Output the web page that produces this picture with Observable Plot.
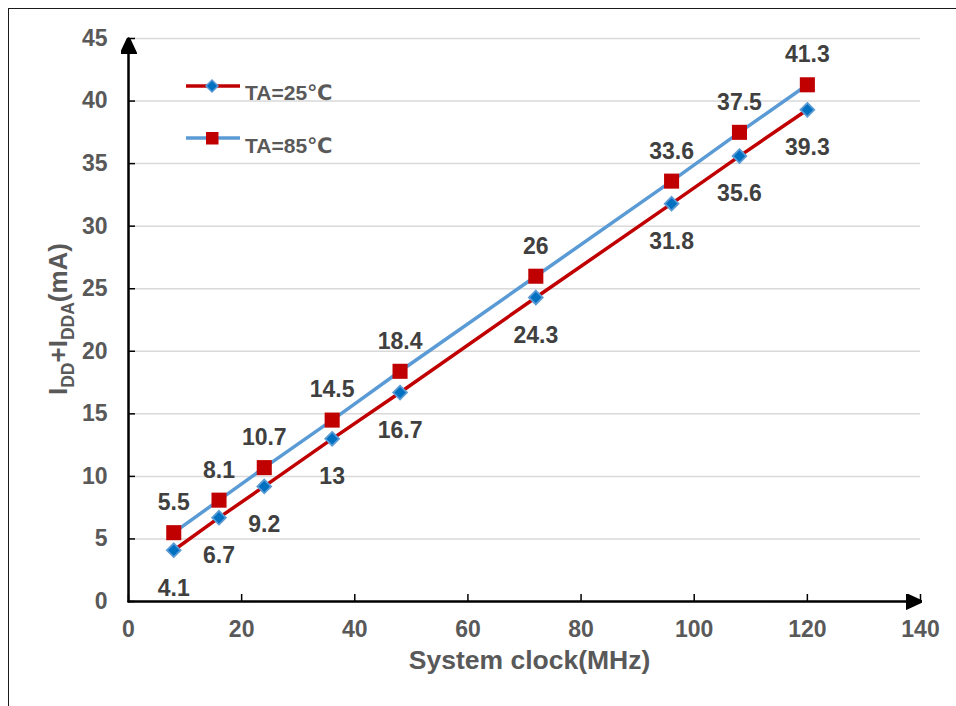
<!DOCTYPE html>
<html><head><meta charset="utf-8">
<script src="https://cdn.jsdelivr.net/npm/d3@7"></script>
<script src="https://cdn.jsdelivr.net/npm/@observablehq/plot@0.6"></script>
<style>
html,body{margin:0;padding:0;background:#fff;overflow:hidden;}
#chart{position:relative;width:956px;height:706px;}
#frame{position:absolute;left:8px;top:8px;width:980px;height:740px;border-top:1.5px solid #1a1a1a;border-left:1.5px solid #1a1a1a;pointer-events:none;}
</style></head><body>
<div id="chart"><div id="frame"></div></div>
<script>
// ---- data ----
const clockMHz = [8, 16, 24, 36, 48, 72, 96, 108, 120];
const idd25 = [4.1, 6.7, 9.2, 13, 16.7, 24.3, 31.8, 35.6, 39.3];
const idd85 = [5.5, 8.1, 10.7, 14.5, 18.4, 26, 33.6, 37.5, 41.3];
const seriesNames = ["TA=25℃", "TA=85℃"];
const xTicks = [0, 20, 40, 60, 80, 100, 120, 140];
const yTicks = [0, 5, 10, 15, 20, 25, 30, 35, 40, 45];
const xDomain = [0, 140];
const yDomain = [0, 45];
const xTitle = "System clock(MHz)";

const rows = clockMHz.map((x, i) => ({x, y25: idd25[i], y85: idd85[i]}));

const RED = "#C00000", BLUE = "#5B9BD5", DBLUE = "#0070C0";
const FONT = "Liberation Sans, Arial, DejaVu Sans, sans-serif";

function triangleMarker() {
  const m = d3.create("svg:marker")
    .attr("viewBox", "0 -8 16 16")
    .attr("markerUnits", "userSpaceOnUse")
    .attr("markerWidth", 16).attr("markerHeight", 16)
    .attr("refX", 15).attr("refY", 0)
    .attr("orient", "auto");
  m.append("path").attr("d", "M0,-7.5L16,0L0,7.5Z").attr("fill", "#000");
  return m.node();
}

const W = 956, H = 706, ML = 128, MR = 36, MT = 38, MB = 105;
const FW = W - ML - MR, FH = H - MT - MB;

const plot = Plot.plot({
  width: W, height: H,
  marginLeft: ML, marginRight: MR, marginTop: MT, marginBottom: MB,
  style: {fontFamily: FONT, background: "transparent", overflow: "visible"},
  x: {domain: xDomain},
  y: {domain: yDomain},
  marks: [
    Plot.gridY(yTicks.filter(d => d > 0), {stroke: "#D9D9D9", strokeOpacity: 1, strokeWidth: 1.5}),
    Plot.axisY(yTicks, {tickSize: 0, tickPadding: 21, fontSize: 23, fontWeight: "bold", color: "#595959", label: null}),
    Plot.axisX(xTicks, {tickSize: 0, tickPadding: 19, fontSize: 23, fontWeight: "bold", color: "#595959", label: null}),
    Plot.tickY(yTicks, {y: d => d, insetRight: FW - 7, stroke: "#000", strokeWidth: 1.5}),
    Plot.tickX(xTicks, {x: d => d, insetTop: FH - 7, stroke: "#000", strokeWidth: 1.5}),
    Plot.line([[xDomain[0], yDomain[0]], [xDomain[0], yDomain[1]]], {x: d => d[0], y: d => d[1], stroke: "#000", strokeWidth: 2.5, markerEnd: triangleMarker}),
    Plot.line([[xDomain[0], yDomain[0]], [xDomain[1], yDomain[0]]], {x: d => d[0], y: d => d[1], stroke: "#000", strokeWidth: 2.5, markerEnd: triangleMarker}),
    Plot.line(rows, {x: "x", y: "y25", stroke: RED, strokeWidth: 3.5}),
    Plot.line(rows, {x: "x", y: "y85", stroke: BLUE, strokeWidth: 3.5}),
    Plot.dot(rows, {x: "x", y: "y25", symbol: "diamond2", r: 6.2, fill: DBLUE, stroke: BLUE, strokeWidth: 1.8}),
    Plot.dot(rows, {x: "x", y: "y85", symbol: "square", r: 8.5, fill: RED, stroke: null}),
    Plot.text(rows, {x: "x", y: "y85", text: d => String(d.y85), dy: -30, fontSize: 23, fontWeight: "bold", fill: "#404040"}),
    Plot.text(rows, {x: "x", y: "y25", text: d => String(d.y25), dy: 38, fontSize: 23, fontWeight: "bold", fill: "#404040"}),
    Plot.text([xTitle], {frameAnchor: "bottom", text: d => d, dy: 67, dx: 5, fontSize: 26.5, fontWeight: "bold", fill: "#595959"})
  ]
});

const svg = d3.select(plot);
// y-axis title with subscripts
const yt = svg.append("text")
  .attr("transform", "translate(67,319) rotate(-90)")
  .attr("text-anchor", "middle")
  .attr("font-family", FONT).attr("font-weight", "bold").attr("font-size", 26)
  .attr("fill", "#595959");
yt.append("tspan").text("I");
yt.append("tspan").attr("font-size", 17.5).attr("dy", 7).text("DD");
yt.append("tspan").attr("dy", -7).text("+I");
yt.append("tspan").attr("font-size", 17.5).attr("dy", 7).text("DDA");
yt.append("tspan").attr("dy", -7).text("(mA)");

// legend
const lg = svg.append("g").attr("font-family", FONT).attr("font-weight", "bold").attr("font-size", 21)
  .attr("fill", "#595959").attr("text-anchor", "start");
lg.append("line").attr("x1", 186).attr("x2", 240).attr("y1", 86).attr("y2", 86).attr("stroke", RED).attr("stroke-width", 3.5);
lg.append("path").attr("d", "M212,80L218,86L212,92L206,86Z").attr("fill", DBLUE).attr("stroke", BLUE).attr("stroke-width", 1.5);
lg.append("text").attr("x", 245).attr("y", 100).text(seriesNames[0]);
lg.append("line").attr("x1", 186).attr("x2", 240).attr("y1", 138).attr("y2", 138).attr("stroke", BLUE).attr("stroke-width", 3.5);
lg.append("rect").attr("x", 206).attr("y", 132).attr("width", 12.5).attr("height", 12.5).attr("fill", RED);
lg.append("text").attr("x", 245).attr("y", 153).text(seriesNames[1]);

document.getElementById("chart").prepend(plot);
</script>
</body></html>
